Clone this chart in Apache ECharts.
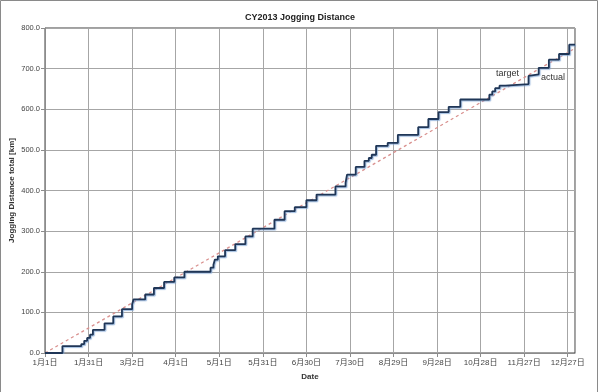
<!DOCTYPE html>
<html>
<head>
<meta charset="utf-8">
<script src="https://cdn.jsdelivr.net/npm/echarts@6/dist/echarts.min.js"></script>
<style>html,body{margin:0;padding:0;background:#fff}#c{width:600px;height:392px}</style>
</head>
<body>
<div id="c"></div>
<script>
// Tick labels for the date axis (every 30 days from Jan 1)
var tickLabels = ['1月1日','1月31日','3月2日','4月1日','5月1日','5月31日','6月30日','7月30日','8月29日','9月28日','10月28日','11月27日','12月27日'];
// Actual cumulative distance: day-of-year (0 = Jan 1) when each step occurs, and total after it
var actualDays = [0, 12, 25, 27, 29, 31, 33, 41, 47, 53, 60, 61, 69, 75, 82, 89, 96, 114, 116, 117, 119, 124, 131, 138, 143, 158, 165, 172, 180, 187, 200, 207, 208, 214, 220, 223, 225, 228, 236, 243, 257, 264, 271, 278, 286, 306, 308, 310, 313, 317, 333, 334, 340, 347, 354, 361, 365];
var actualKm   = [0, 17, 22, 30, 37, 45, 57, 73, 90, 108, 120, 132, 144, 160, 175, 186, 200, 210, 217, 230, 238, 253, 268, 287, 306, 328, 349, 359, 376, 390, 410, 419, 439, 458, 473, 480, 488, 510, 517, 537, 556, 576, 593, 606, 624, 636, 644, 652, 658, 662, 682, 686, 702, 722, 736, 759, 759];
// Target: linear from 0 to 750 km over the year
var targetDays = [0, 365];
var targetKm = [0, 750];

var font = "'Liberation Sans', 'Noto Sans CJK JP', sans-serif";
var chart = echarts.init(document.getElementById('c'));
chart.setOption({
  animation: false,
  backgroundColor: '#fff',
  title: {
    text: 'CY2013 Jogging Distance', left: 'center', top: 8,
    textStyle: {fontFamily: font, fontSize: 9, fontWeight: 'bold', color: '#222'}
  },
  grid: {left: 45, right: 25, top: 28, bottom: 39, containLabel: false, outerBoundsMode: 'none', show: true, borderColor: '#404040', borderWidth: 1},
  xAxis: {
    type: 'value', min: 0, max: 365, interval: 30,
    name: 'Date', nameLocation: 'middle', nameGap: 20, nameMoveOverlap: false,
    nameTextStyle: {fontFamily: font, fontSize: 8, fontWeight: 'bold', color: '#333'},
    axisLine: {lineStyle: {color: '#8c8c8c'}},
    axisTick: {show: true, length: 4, lineStyle: {color: '#8c8c8c'}},
    axisLabel: {
      fontFamily: font, fontSize: 8, color: '#444', margin: 6, showMaxLabel: false,
      formatter: function (v) { var i = Math.round(v / 30); return (v % 30 === 0 && tickLabels[i]) ? tickLabels[i] : ''; }
    },
    splitLine: {show: true, lineStyle: {color: '#a6a6a6', width: 1}}
  },
  yAxis: {
    type: 'value', min: 0, max: 800, interval: 100,
    name: 'Jogging Distance total [km]', nameLocation: 'middle', nameGap: 29, nameRotate: 90, nameMoveOverlap: false,
    nameTextStyle: {fontFamily: font, fontSize: 8, fontWeight: 'bold', color: '#333'},
    axisLine: {show: true, lineStyle: {color: '#8c8c8c'}},
    axisTick: {show: true, length: 4, lineStyle: {color: '#8c8c8c'}},
    axisLabel: {fontFamily: font, fontSize: 7.5, color: '#444', margin: 5, formatter: function (v) { return v.toFixed(1); }},
    splitLine: {show: true, lineStyle: {color: '#a6a6a6', width: 1}}
  },
  series: [
    {
      name: 'target', type: 'line', symbol: 'none',
      data: targetDays.map(function (d, i) { return [d, targetKm[i]]; }),
      lineStyle: {color: '#d9908e', width: 1.3, type: [3, 3]},
      z: 3
    },
    {
      name: 'actual', type: 'line', symbol: 'none', step: 'end',
      data: actualDays.map(function (d, i) { return [d, actualKm[i]]; }),
      lineStyle: {color: '#1f3657', width: 1.8, shadowColor: 'rgba(120,160,210,0.7)', shadowBlur: 1, shadowOffsetX: 1, shadowOffsetY: 1},
      z: 4
    }
  ],
  graphic: [
    {type: 'rect', shape: {x: 0.5, y: 0.5, width: 597, height: 400}, style: {fill: null, stroke: '#8a8a8a', lineWidth: 1}, silent: true},
    {type: 'text', left: 496, top: 69, style: {text: 'target', fontFamily: font, fontSize: 9, fill: '#333'}},
    {type: 'text', left: 541, top: 73, style: {text: 'actual', fontFamily: font, fontSize: 9, fill: '#333'}}
  ]
});
</script>
</body>
</html>
